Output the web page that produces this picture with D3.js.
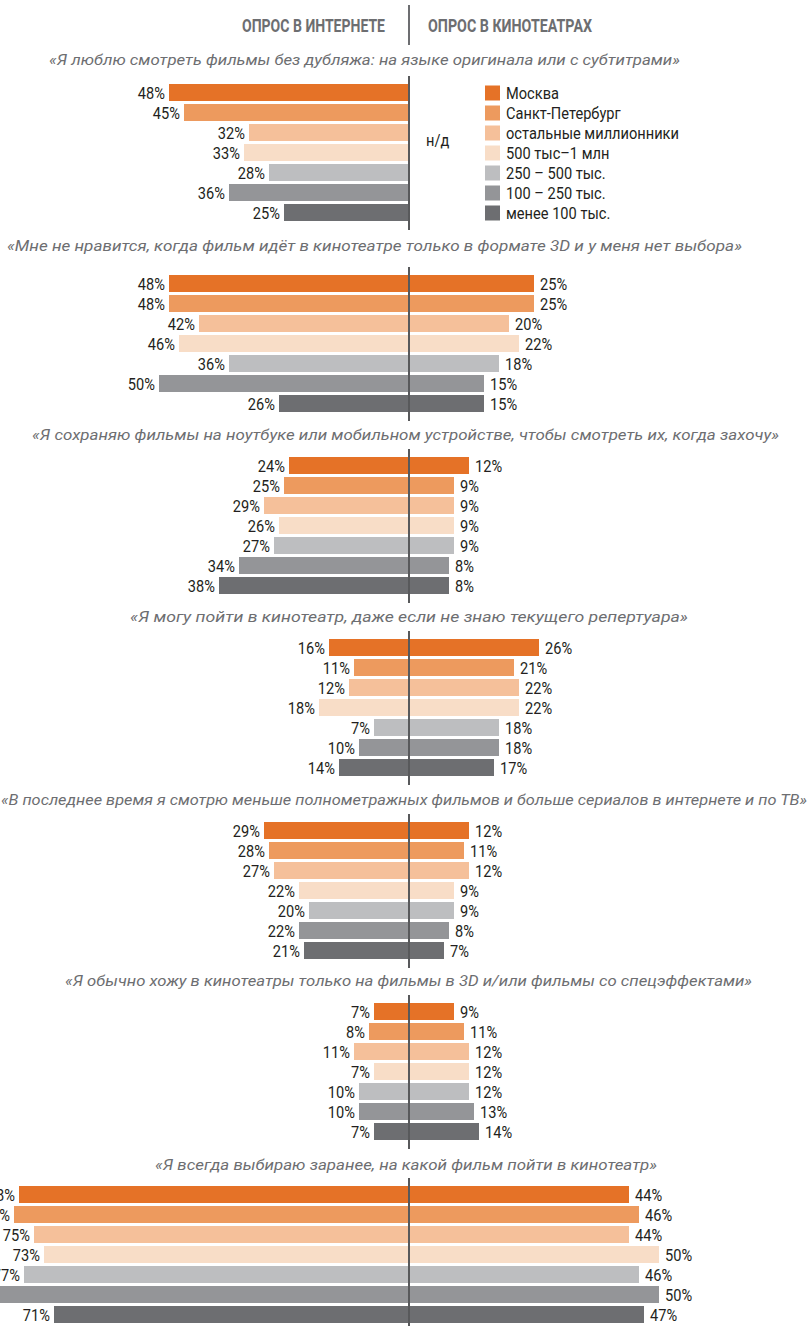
<!DOCTYPE html>
<html>
<head>
<meta charset="utf-8">
<script src="https://cdn.jsdelivr.net/npm/d3@7/dist/d3.min.js"></script>
<style>
  html, body { margin: 0; padding: 0; background: #ffffff; }
  svg { display: block; }
  .lbl { font-family: "Roboto", "Liberation Sans", sans-serif; font-size: 17px; fill: #231f20; }
  .ttl { font-family: "Roboto", "Open Sans", sans-serif; font-style: italic; font-size: 15px; fill: #6d6e71; }
  .hdr { font-family: "Roboto", "Liberation Sans", sans-serif; font-weight: bold; font-size: 19px; fill: #6d6e71; }
</style>
</head>
<body>
<script>
// ---------- DATA ----------
const categories = ["Москва", "Санкт-Петербург", "остальные миллионники", "500 тыс–1 млн", "250 – 500 тыс.", "100 – 250 тыс.", "менее 100 тыс."];
const colors = ["#e57227", "#ed9a5e", "#f5c09a", "#f8ddc7", "#bdbec0", "#949598", "#6d6e71"];
const headers = ["ОПРОС В ИНТЕРНЕТЕ", "ОПРОС В КИНОТЕАТРАХ"];
const questions = [
  "«Я люблю смотреть фильмы без дубляжа: на языке оригинала или с субтитрами»",
  "«Мне не нравится, когда фильм идёт в кинотеатре только в формате 3D и у меня нет выбора»",
  "«Я сохраняю фильмы на ноутбуке или мобильном устройстве, чтобы смотреть их, когда захочу»",
  "«Я могу пойти в кинотеатр, даже если не знаю текущего репертуара»",
  "«В последнее время я смотрю меньше полнометражных фильмов и больше сериалов в интернете и по ТВ»",
  "«Я  обычно хожу в кинотеатры только на фильмы в 3D и/или фильмы со спецэффектами»",
  "«Я всегда выбираю заранее, на какой фильм пойти в кинотеатр»"
];
const internetQ1 = [48, 45, 32, 33, 28, 36, 25];
const cinemaQ1   = null; // н/д
const internetQ2 = [48, 48, 42, 46, 36, 50, 26];
const cinemaQ2   = [25, 25, 20, 22, 18, 15, 15];
const internetQ3 = [24, 25, 29, 26, 27, 34, 38];
const cinemaQ3   = [12, 9, 9, 9, 9, 8, 8];
const internetQ4 = [16, 11, 12, 18, 7, 10, 14];
const cinemaQ4   = [26, 21, 22, 22, 18, 18, 17];
const internetQ5 = [29, 28, 27, 22, 20, 22, 21];
const cinemaQ5   = [12, 11, 12, 9, 9, 8, 7];
const internetQ6 = [7, 8, 11, 7, 10, 10, 7];
const cinemaQ6   = [9, 11, 12, 12, 12, 13, 14];
const internetQ7 = [78, 79, 75, 73, 77, 82, 71];
const cinemaQ7   = [44, 46, 44, 50, 46, 50, 47];
const naLabel = "н/д";

const internet = [internetQ1, internetQ2, internetQ3, internetQ4, internetQ5, internetQ6, internetQ7];
const cinema   = [cinemaQ1, cinemaQ2, cinemaQ3, cinemaQ4, cinemaQ5, cinemaQ6, cinemaQ7];

// ---------- LAYOUT ----------
const W = 808, H = 1326;
const cx = 409;
const squeeze = 0.86;
const blockTops  = [84, 275, 457, 639, 822, 1003, 1186];
const titleY     = [60, 246, 435, 617, 800, 981, 1165];
const titleBox   = [[364.5, 631], [374.5, 735], [405.5, 747], [409, 558], [404, 806], [408.5, 687], [406, 502]];

const svg = d3.select("body").append("svg").attr("width", W).attr("height", H);

const xL = d3.scaleLinear().domain([0, 100]).range([cx, cx - 500]);
const xR = d3.scaleLinear().domain([0, 100]).range([cx, cx + 500]);

function label(sel, x, y, anchor, txt) {
  return sel.append("text").attr("class", "lbl")
    .attr("transform", `translate(${x},${y}) scale(${squeeze},1)`)
    .attr("dy", "0.36em").attr("text-anchor", anchor).text(txt);
}

// header
svg.append("line").attr("x1", cx).attr("x2", cx).attr("y1", 5).attr("y2", 45)
  .attr("stroke", "#6d6e71").attr("stroke-width", 2);
svg.append("text").attr("class", "hdr").attr("x", 385).attr("y", 32)
  .attr("text-anchor", "end").attr("textLength", 143).attr("lengthAdjust", "spacingAndGlyphs").text(headers[0]);
svg.append("text").attr("class", "hdr").attr("x", 428).attr("y", 32)
  .attr("textLength", 164).attr("lengthAdjust", "spacingAndGlyphs").text(headers[1]);

questions.forEach((q, qi) => {
  const top = blockTops[qi];
  const y = d3.scaleBand().domain(categories).range([top - 1.5, top + 138.5]).paddingInner(0.15).paddingOuter(0.075);
  const g = svg.append("g");

  const tb = titleBox[qi];
  g.append("text").attr("class", "ttl")
    .attr("x", tb[0] - tb[1] / 2).attr("y", titleY[qi] + 5)
    .attr("textLength", tb[1]).attr("lengthAdjust", "spacingAndGlyphs")
    .text(q);

  const left = internet[qi];
  g.selectAll("rect.l").data(left).join("rect").attr("class", "l")
    .attr("x", d => xL(d)).attr("width", d => xL(0) - xL(d))
    .attr("y", (d, i) => y(categories[i])).attr("height", y.bandwidth())
    .attr("fill", (d, i) => colors[i]);
  left.forEach((d, i) => label(g, xL(d) - 4, y(categories[i]) + y.bandwidth() / 2, "end", d + "%"));

  const right = cinema[qi];
  if (right) {
    g.selectAll("rect.r").data(right).join("rect").attr("class", "r")
      .attr("x", xR(0)).attr("width", d => xR(d) - xR(0))
      .attr("y", (d, i) => y(categories[i])).attr("height", y.bandwidth())
      .attr("fill", (d, i) => colors[i]);
    right.forEach((d, i) => label(g, xR(d) + 6, y(categories[i]) + y.bandwidth() / 2, "start", d + "%"));
  } else {
    label(g, 426, top + 56, "start", naLabel);
    // legend
    const lg = g.append("g");
    categories.forEach((c, i) => {
      lg.append("rect").attr("x", 485).attr("y", y(c) + 1.5).attr("width", 15).attr("height", 15).attr("fill", colors[i]);
      label(lg, 506, y(c) + 9, "start", c);
    });
  }

  g.append("line").attr("x1", cx).attr("x2", cx)
    .attr("y1", top - 8).attr("y2", top + 146)
    .attr("stroke", "#58595b").attr("stroke-width", 2);
});
</script>
</body>
</html>
